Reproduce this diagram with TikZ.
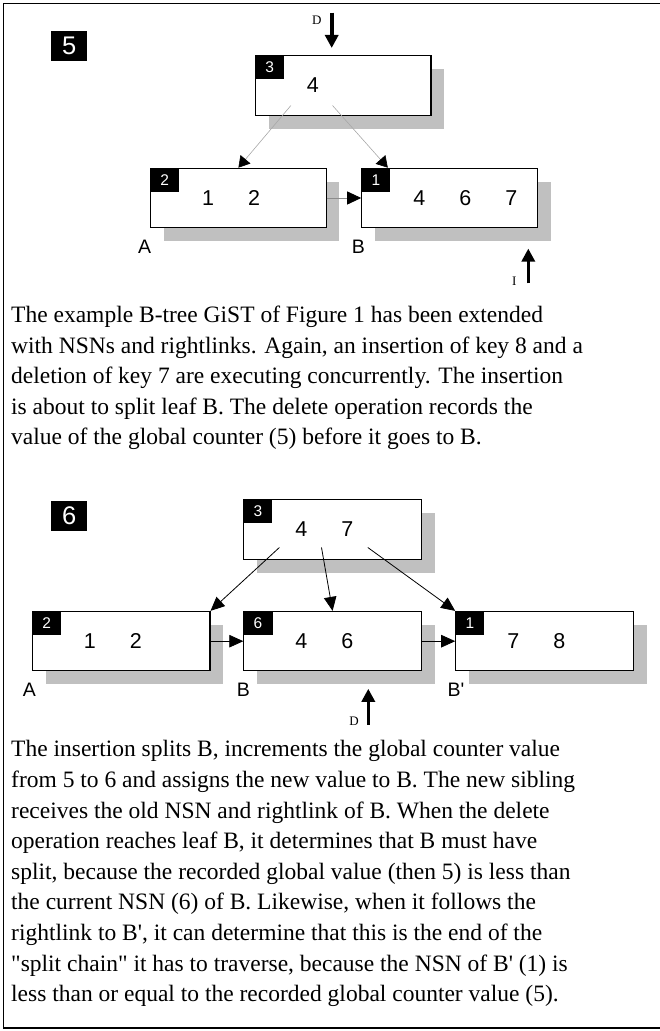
\documentclass[tikz,border=0pt]{standalone}
\usepackage{fontspec}
\newfontfamily\bodyfont{Liberation Serif}
\newfontfamily\keyfont{Liberation Sans}
\usetikzlibrary{arrows.meta,calc,shadows}
\definecolor{shadowgray}{HTML}{C0C0C0}
\definecolor{linkgray}{HTML}{A8A8A8}
\newcommand{\kx}[1]{\makebox[46pt]{#1}}

\tikzset{
	page/.style={draw, line width=1.1pt, fill=white, minimum width=#1, text width=#1, align=left,
		minimum height=59.5pt, inner sep=0pt, font=\keyfont\fontsize{21.5}{21.5}\selectfont,
		drop shadow={shadow xshift=13.3pt, shadow yshift=-13.5pt, fill=shadowgray, opacity=1}},
	page/.default=175.5pt,
	nsn/.style={fill=black, text=white, minimum width=29pt, minimum height=23.8pt, inner sep=0pt,
		anchor=north west, font=\keyfont\fontsize{15.5}{15.5}\selectfont},
	stage/.style={fill=black, text=white, minimum width=35.8pt, minimum height=30.3pt, inner sep=0pt,
		font=\keyfont\fontsize{25.5}{25.5}\selectfont},
	leafname/.style={anchor=west, inner sep=0pt, font=\keyfont\fontsize{19.5}{19.5}\selectfont},
	opname/.style={inner sep=0pt, font=\bodyfont\fontsize{13}{13}\selectfont},
	bodytext/.style={anchor=base west, inner sep=0pt, font=\bodyfont\fontsize{23.5}{30}\selectfont},
	oldlink/.style={draw=linkgray, line width=0.6pt, -{Triangle[length=11pt,width=13pt,color=black]}},
	oldright/.style={draw=black!45, line width=0.9pt, -{Triangle[length=14pt,width=13pt,color=black]}},
	link/.style={draw=black, line width=0.8pt, -{Triangle[length=14pt,width=12.5pt]}},
	bigarrow/.style={line width=3.6pt, -{Triangle[length=13pt,width=13pt]}}
}

\begin{document}
\begin{tikzpicture}[x=1pt,y=1pt]
	\useasboundingbox (0,0) rectangle (660,1031);
	\draw[line width=1.3pt] (3.5,3) rectangle (664,1027.3);

	\node[stage] (s5) at (69.2,985.2) {5};
	\node[page] (r5) at (343.2,945.5) {\hspace*{34.5pt}\kx{4}};
	\node[page] (a5) at (238.4,833) {\hspace*{34.5pt}\kx{1}\kx{2}};
	\node[page] (b5) at (449.5,833) {\hspace*{34.5pt}\kx{4}\kx{6}\kx{7}};
	\node[nsn] (r5n) at (r5.north west) {3};
	\node[nsn] (a5n) at (a5.north west) {2};
	\node[nsn] (b5n) at (b5.north west) {1};

	\node[leafname] (la5) at (138,784) {A};
	\node[leafname] (lb5) at (351.7,784) {B};

	\coordinate (r5k1) at ($(r5.south west)+(36,10.3)$);
	\coordinate (r5k2) at ($(r5.south west)+(77.6,10.3)$);
	\coordinate (b5in) at ($(b5.north west)+(26.6,0)$);
	\draw[oldlink] (r5k1) -- (a5.north);
	\draw[oldlink] (r5k2) -- (b5in);
	\draw[oldright] (a5.east) -- (b5.west);

	\coordinate (d5) at (331.7,1018.3);
	\draw[bigarrow, shorten >=7.2pt] (d5) -- (d5 |- r5.north);
	\node[opname] (d5l) at (316.7,1010.3) {D};
	\coordinate (i5) at (528.3,747.7);
	\draw[bigarrow, shorten >=20.3pt] (i5) -- (i5 |- b5.south);
	\node[opname] (i5l) at (514.3,749.3) {I};

	\foreach \rowtext [count=\k from 0] in {
		{The example B-tree GiST of Figure 1 has been extended},
		{with NSNs and rightlinks. Again, an insertion of key 8 and a},
		{deletion of key 7 are executing concurrently. The insertion},
		{is about to split leaf B. The delete operation records the},
		{value of the global counter (5) before it goes to B.}}
		\node[bodytext] (t5\k) at (11,{708.3-30.5*\k}) {\rowtext};

	\node[stage] (s6) at (69.2,515.3) {6};
	\node[page=177.5pt] (r6) at (332.5,501.5) {\hspace*{34.5pt}\kx{4}\kx{7}};
	\node[page=177.5pt] (a6) at (121.2,389.8) {\hspace*{34.5pt}\kx{1}\kx{2}};
	\node[page=177.5pt] (b6) at (332.6,389.8) {\hspace*{34.5pt}\kx{4}\kx{6}};
	\node[page=177.5pt] (c6) at (544.5,389.8) {\hspace*{34.5pt}\kx{7}\kx{8}};
	\node[nsn] (r6n) at (r6.north west) {3};
	\node[nsn] (a6n) at (a6.north west) {2};
	\node[nsn] (b6n) at (b6.north west) {6};
	\node[nsn] (c6n) at (c6.north west) {1};

	\node[leafname] (la6) at (22.7,341.5) {A};
	\node[leafname] (lb6) at (236.7,341.5) {B};
	\node[leafname] (lc6) at (447.3,341.5) {B'};

	\coordinate (r6k1) at ($(r6.south west)+(36.2,12.3)$);
	\coordinate (r6k2) at ($(r6.south west)+(78.3,12.3)$);
	\coordinate (r6k3) at ($(r6.south west)+(124.6,12.3)$);
	\draw[link] (r6k1) -- (a6.north east);
	\draw[link] (r6k2) -- (b6.north);
	\draw[link] (r6k3) -- (c6.north west);
	\draw[link] (a6.east) -- (b6.west);
	\draw[link] (b6.east) -- (c6.west);

	\coordinate (d6) at (368.3,306);
	\draw[bigarrow, shorten >=17.3pt] (d6) -- (d6 |- b6.south);
	\node[opname] (d6l) at (354,309.3) {D};

	\foreach \rowtext [count=\k from 0] in {
		{The insertion splits B, increments the global counter value},
		{from 5 to 6 and assigns the new value to B. The new sibling},
		{receives the old NSN and rightlink of B. When the delete},
		{operation reaches leaf B, it determines that B must have},
		{split, because the recorded global value (then 5) is less than},
		{the current NSN (6) of B. Likewise, when it follows the},
		{rightlink to B', it can determine that this is the end of the},
		{"split chain" it has to traverse, because the NSN of B' (1) is},
		{less than or equal to the recorded global counter value (5).}}
		\node[bodytext] (t6\k) at (11,{274-30.6*\k}) {\rowtext};
\end{tikzpicture}
\end{document}
